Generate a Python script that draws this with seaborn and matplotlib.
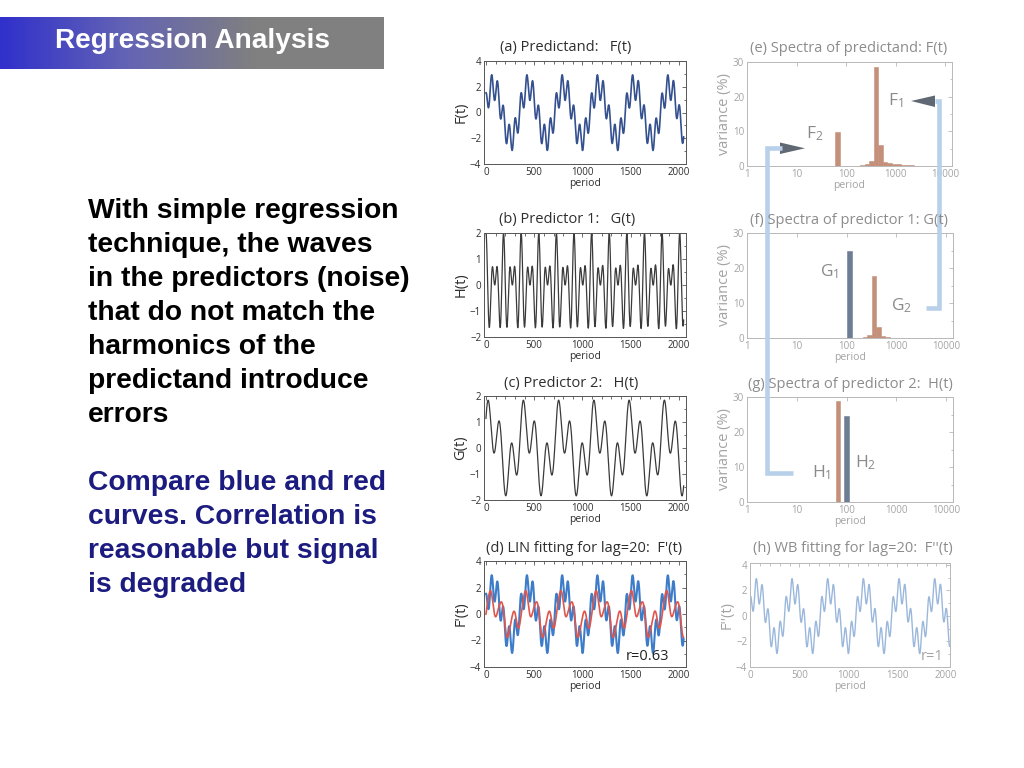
import numpy as np
import seaborn as sns
import matplotlib.pyplot as plt
from matplotlib.lines import Line2D
from matplotlib.patches import Polygon
from matplotlib.colors import LinearSegmentedColormap
from matplotlib.ticker import FixedLocator, MultipleLocator, NullLocator

# time axis of the series
t_days = np.arange(0, 2049)

# harmonic components: period, amplitude, time of first crest
f_period = [365.0, 60.8]
f_amp = [2.0, 1.0]
f_crest = [75, 59]

g_period = [121.7, 365.0]
g_amp = [1.0, 0.95]
g_crest = [20, 50]

h_period = [60.8, 91.25]
h_amp = [1.0, 1.0]
h_crest = [0, 0]

lin_period = [121.7, 365.0, 60.8]
lin_amp = [0.95, 0.9, 0.1]
lin_crest = [40, 70, 59]

# spectra: period of each bar and variance (%)
spec_f_period = [66, 215, 262, 325, 400, 492, 606, 745, 917, 1130, 1390, 1710, 2100]
spec_f_var = [9.8, 0.2, 0.5, 1.5, 28.5, 6.2, 1.2, 0.8, 0.6, 0.5, 0.4, 0.3, 0.2]
spec_f_noise = [0, 0, 0, 0, 0, 0, 0, 0, 0, 0, 0, 0, 0]

spec_g_period = [114, 235, 290, 356, 437, 537, 660]
spec_g_var = [25.0, 0.3, 0.8, 17.7, 3.2, 0.6, 0.3]
spec_g_noise = [1, 0, 0, 0, 0, 0, 0]

spec_h_period = [67, 99]
spec_h_var = [29.0, 24.7]
spec_h_noise = [0, 1]

ts_ticks = [0, 500, 1000, 1500, 2000]
log_ticks = [1, 10, 100, 1000, 10000]
log_labels = ["1", "10", "100", "1000", "10000"]

text_black = ["With simple regression", "technique, the waves",
              "in the predictors (noise)", "that do not match the",
              "harmonics of the", "predictand introduce", "errors"]
text_blue = ["Compare blue and red", "curves. Correlation is",
             "reasonable but signal", "is degraded"]


def series(periods, amps, crests):
    out = np.zeros(len(t_days))
    for p, a, c in zip(periods, amps, crests):
        out += a * np.cos(2 * np.pi * (t_days - c) / p)
    return out


F = series(f_period, f_amp, f_crest)
G = series(g_period, g_amp, g_crest)
H = series(h_period, h_amp, h_crest)
LIN = series(lin_period, lin_amp, lin_crest)

sns.set_style("white")
plt.rcParams['font.family'] = ['Open Sans', 'DejaVu Sans']
plt.rcParams['mathtext.default'] = 'regular'

fig = plt.figure(figsize=(10.24, 7.68), dpi=100)


def box(l, t, r, b):
    return [l / 1024, 1 - b / 768, (r - l) / 1024, (b - t) / 768]


def fx(x):
    return x / 1024


def fy(y):
    return 1 - y / 768


DARK = "#2e2e2e"
FADE = "#a3a3a3"
BROWN = "#c4907a"
SLATE = "#6c7d94"


def style_axes(ax, faded):
    fc = "#b8b8b8" if faded else "#555555"
    tc = FADE if faded else DARK
    for s in ax.spines.values():
        s.set_color(fc)
        s.set_linewidth(0.7)
    ax.tick_params(which='both', direction='in', top=True, right=True,
                   colors=fc, labelcolor=tc, labelsize=7, pad=2, width=0.6)
    ax.tick_params(which='major', length=3)
    ax.tick_params(which='minor', length=1.8)
    ax.xaxis.label.set_color(tc)
    ax.yaxis.label.set_color(tc)


def ts_panel(rect, ys, ylab, ymax, ystep, faded=False, xlim=(-20, 2072)):
    ax = fig.add_axes(rect)
    for y, col, lw in ys:
        sns.lineplot(x=t_days, y=y, ax=ax, color=col, linewidth=lw, estimator=None)
    ax.set_xlim(*xlim)
    ax.set_ylim(-ymax, ymax)
    ax.xaxis.set_major_locator(FixedLocator(ts_ticks))
    ax.xaxis.set_minor_locator(MultipleLocator(100))
    ax.yaxis.set_major_locator(MultipleLocator(ystep))
    ax.yaxis.set_minor_locator(MultipleLocator(ystep / 2))
    ax.set_xlabel("period", fontsize=7.5, labelpad=0)
    ax.set_ylabel(ylab, fontsize=10.5, labelpad=1)
    style_axes(ax, faded)
    return ax


def spec_panel(rect, periods, var, noise, ylab="variance (%)"):
    ax = fig.add_axes(rect)
    w = 0.09
    p = np.array(periods, dtype=float)
    lefts = p * 10 ** (-w / 2)
    widths = p * (10 ** (w / 2) - 10 ** (-w / 2))
    cols = [SLATE if n else BROWN for n in noise]
    ax.bar(lefts, var, width=widths, align='edge', color=cols,
           edgecolor=cols, linewidth=0.4)
    ax.set_xscale('log')
    ax.set_xlim(0.98, 13800)
    ax.set_ylim(0, 30)
    ax.xaxis.set_major_locator(FixedLocator(log_ticks))
    ax.xaxis.set_major_formatter(plt.FixedFormatter(log_labels))
    ax.xaxis.set_minor_locator(NullLocator())
    ax.yaxis.set_major_locator(MultipleLocator(10))
    ax.yaxis.set_minor_locator(MultipleLocator(5))
    ax.set_xlabel("period", fontsize=7.5, labelpad=0)
    ax.set_ylabel(ylab, fontsize=10.5, labelpad=1)
    style_axes(ax, True)
    return ax


# left column: time series
ax_a = ts_panel(box(484, 61, 686, 164), [(F, "#34508f", 1.2)], "F(t)", 4, 2)
ax_b = ts_panel(box(484, 233, 686, 337), [(H, "#3a3a3a", 0.9)], "H(t)", 2, 1)
ax_c = ts_panel(box(484, 396, 686, 500), [(G, "#3a3a3a", 0.9)], "G(t)", 2, 1)
ax_d = ts_panel(box(484, 561, 686, 667),
                [(F, "#3d7cc9", 1.5), (LIN, "#e0564c", 1.2)], "F'(t)", 4, 2)
ax_d.text(0.915, 0.03, "r=0.63", transform=ax_d.transAxes, ha='right', va='bottom',
          fontsize=10.5, color="#222222")

# right column: spectra and WB fit
ax_e = spec_panel(box(747, 62, 952, 166), spec_f_period, spec_f_var, spec_f_noise)
ax_f = spec_panel(box(747, 233, 953, 338), spec_g_period, spec_g_var, spec_g_noise)
ax_g = spec_panel(box(747, 397, 953, 502), spec_h_period, spec_h_var, spec_h_noise)
ax_h = ts_panel(box(750, 563, 950, 667), [(F, "#9bb8dc", 1.0)], "F''(t)", 4, 2,
                faded=True, xlim=(-5, 2040))
ax_h.set_ylim(-4, 4.15)
ax_h.text(0.965, 0.03, "r=1", transform=ax_h.transAxes, ha='right', va='bottom',
          fontsize=10.5, color=FADE)

# panel titles
titles = [
    ("(a) Predictand:   F(t)", 566, 48, DARK),
    ("(b) Predictor 1:   G(t)", 567, 220, DARK),
    ("(c) Predictor 2:   H(t)", 571, 384, DARK),
    ("(d) LIN fitting for lag=20:  F'(t)", 584, 548, DARK),
    ("(e) Spectra of predictand: F(t)", 849, 49, "#8c8c8c"),
    ("(f) Spectra of predictor 1: G(t)", 849, 221, "#8c8c8c"),
    ("(g) Spectra of predictor 2:  H(t)", 850, 384, "#8c8c8c"),
    ("(h) WB fitting for lag=20:  F''(t)", 853, 549, "#8c8c8c"),
]
for s, x, y, c in titles:
    fig.text(fx(x), fy(y), s, ha='center', va='center', fontsize=10.5, color=c)

# component labels on the spectra
comp_labels = [("F$_2$", 806, 134), ("F$_1$", 888, 101), ("G$_1$", 820, 272),
               ("G$_2$", 891, 306), ("H$_1$", 812, 473), ("H$_2$", 855, 463)]
for s, x, y in comp_labels:
    fig.text(fx(x), fy(y), s, ha='left', va='center', fontsize=12.5, color="#8a8a8a")

# light blue connectors with arrowheads
LB = "#b8d0ea"
for xs, ys in [([782, 767, 767, 793], [148, 148, 473, 473]),
               ([935, 939, 939, 926], [101, 101, 308, 308])]:
    fig.add_artist(Line2D([fx(v) for v in xs], [fy(v) for v in ys], color=LB,
                          linewidth=3.3, solid_joinstyle='miter',
                          solid_capstyle='butt', transform=fig.transFigure))
for tri in [[(780, 142.5), (780, 154), (805, 148.3)],
            [(935, 95.5), (935, 107), (911, 101)]]:
    fig.add_artist(Polygon([(fx(a), fy(b)) for a, b in tri], closed=True,
                           facecolor="#5f6873", edgecolor='none',
                           transform=fig.transFigure))

# title bar with gradient
bar = fig.add_axes(box(0, 17, 384, 69))
cmap = LinearSegmentedColormap.from_list("bar", ["#3030cc", "#6464b4", "#808080", "#808080"])
bar.imshow(np.linspace(0, 1, 256)[None, :], aspect='auto', cmap=cmap,
           extent=[0, 1, 0, 1])
bar.set_axis_off()
fig.text(fx(55), fy(41), "Regression Analysis", ha='left', va='center',
         fontsize=20.2, fontweight='bold', color='white', family='Liberation Sans')

# slide text
for i, s in enumerate(text_black):
    fig.text(fx(88), fy(211 + 34 * i), s, ha='left', va='center', fontsize=20.3,
             fontweight='bold', color='black', family='Liberation Sans')
for i, s in enumerate(text_blue):
    fig.text(fx(88), fy(483 + 34 * i), s, ha='left', va='center', fontsize=20.3,
             fontweight='bold', color='#1c1c80', family='Liberation Sans')

fig.savefig("out.png", dpi=100)
